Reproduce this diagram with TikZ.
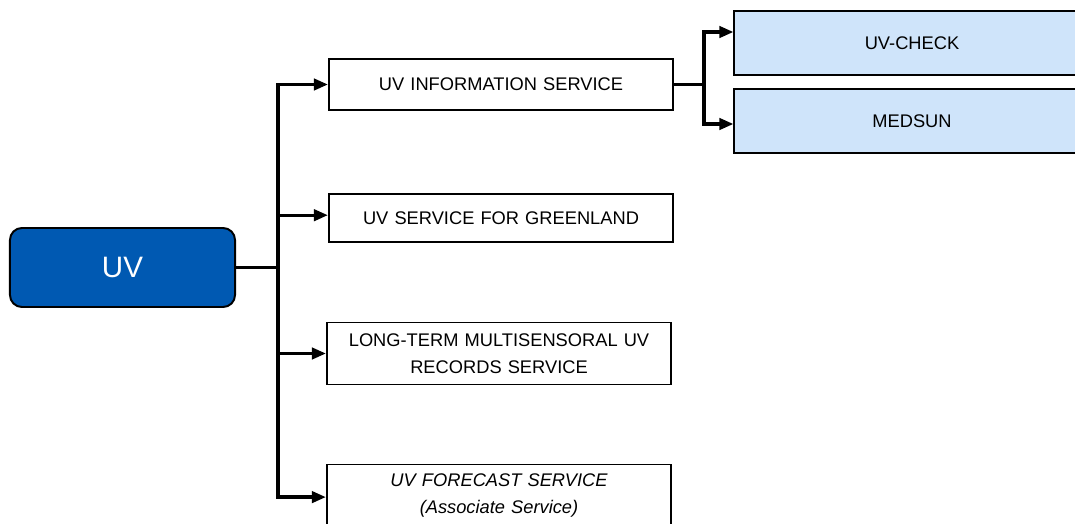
\documentclass[tikz,border=0pt]{standalone}
\usepackage{fontspec}
\setmainfont{Liberation Sans}
\usetikzlibrary{arrows.meta}
\definecolor{uvblue}{RGB}{0,89,178}
\definecolor{paleblue}{RGB}{207,228,250}
\tikzstyle{racine} = [rectangle, rounded corners=0.3cm, draw=black, line width=1.4pt, fill=uvblue, text=white, minimum width=5.625cm, minimum height=1.975cm, font=\fontsize{21}{24}\selectfont]
\tikzstyle{service} = [rectangle, draw=black, line width=1.4pt, minimum width=8.6cm, text width=8.2cm, align=center, font=\fontsize{13}{19}\selectfont]
\tikzstyle{produit} = [service, fill=paleblue, minimum width=8.875cm, text width=8.4cm, minimum height=1.6cm]
\tikzstyle{lien} = [line width=2.4pt]
\tikzstyle{fleche} = [line width=2.4pt, -{Triangle[length=10pt, width=8pt]}]

\begin{document}
\begin{tikzpicture}[x=0.025cm, y=-0.025cm]
        \useasboundingbox (0,0) rectangle (1075,524);

        \node (uv) [racine] at (122.5,267.5) {UV};

        \node (info) [service, minimum height=1.275cm] at (501,84.5) {UV INFORMATION SERVICE};
        \node (groenland) [service, minimum height=1.2cm] at (501,218) {UV SERVICE FOR GREENLAND};
        \node (records) [service, minimum height=1.55cm] at (499,353.5) {LONG-TERM MULTISENSORAL UV\\RECORDS SERVICE};
        \node (forecast) [service, minimum height=1.55cm] at (499,495.5) {\itshape UV FORECAST SERVICE\\(Associate Service)};

        \node (check) [produit] at (912,43) {UV-CHECK};
        \node (medsun) [produit] at (912,121) {MEDSUN};

        \coordinate (tronc) at (278,267.5);
        \coordinate (branche) at (704,84.5);

        \draw[lien] (uv.east) -- (tronc);
        \draw[fleche] (tronc) |- (info.west);
        \draw[fleche] (tronc) |- ([yshift=0.07cm]groenland.west);
        \draw[fleche] (tronc) |- (records.west);
        \draw[fleche] (tronc) |- ([yshift=-0.04cm]forecast.west);

        \draw[lien] (info.east) -- (branche);
        \draw[fleche] (branche) |- ([yshift=0.275cm]check.west);
        \draw[fleche] (branche) |- ([yshift=-0.075cm]medsun.west);
    \end{tikzpicture}
\end{document}
